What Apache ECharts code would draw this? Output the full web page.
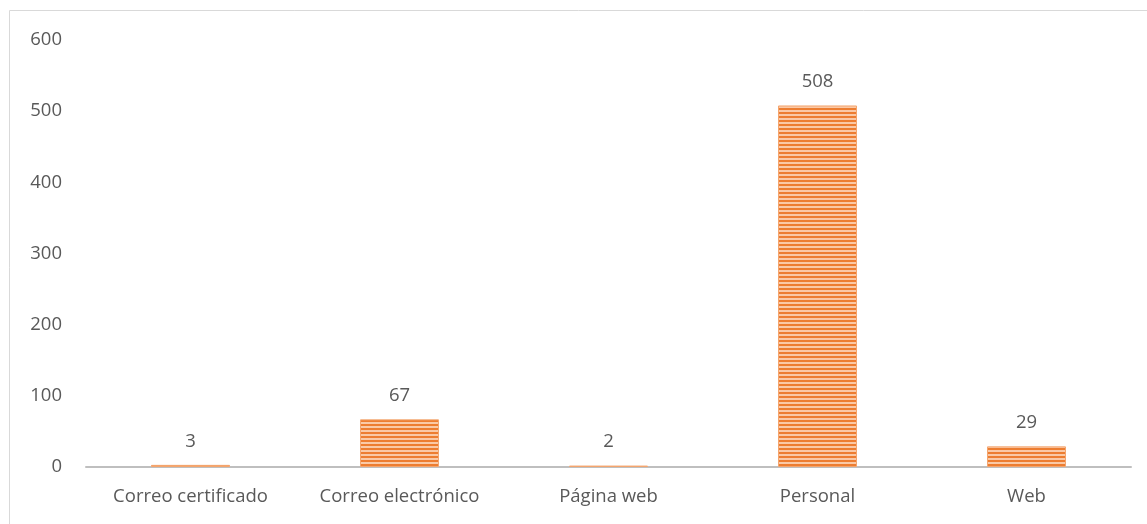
<!DOCTYPE html>
<html>
<head>
<meta charset="utf-8">
<script src="https://cdn.jsdelivr.net/npm/echarts@6/dist/echarts.min.js"></script>
<style>
  html, body { margin: 0; padding: 0; background: #fff; }
  #main { width: 1147px; height: 524px; }
</style>
</head>
<body>
<div id="main"></div>
<script>
var categories = ['Correo certificado', 'Correo electrónico', 'Página web', 'Personal', 'Web']
var values = [3, 67, 2, 508, 29]
var yTicks = [0, 100, 200, 300, 400, 500, 600]

// patron de rayas horizontales
var stripe = document.createElement('canvas')
stripe.width = 8
stripe.height = 4
var ctx = stripe.getContext('2d')
ctx.fillStyle = '#FAC9A6'
ctx.fillRect(0, 0, 8, 4)
ctx.fillStyle = '#ED7D31'
ctx.fillRect(0, 0, 8, 2)

var myChart = echarts.init(document.getElementById('main'))
var textColor = '#595959'
var font = '"Open Sans", sans-serif'

myChart.setOption({
    animation: false,
    graphic: [{
        type: 'rect',
        shape: { x: 9.5, y: 10.5, width: 1160, height: 540 },
        style: { fill: 'none', stroke: '#D9D9D9', lineWidth: 1 },
        silent: true
    }],
    grid: { left: 86, right: 16, top: 40, bottom: 57 },
    xAxis: {
        type: 'category',
        data: categories,
        axisLine: { lineStyle: { color: '#BFBFBF', width: 2 } },
        axisTick: { show: false },
        axisLabel: { color: textColor, fontSize: 18.5, fontFamily: font, margin: 20 }
    },
    yAxis: {
        type: 'value',
        min: yTicks[0],
        max: yTicks[yTicks.length - 1],
        interval: 100,
        splitLine: { show: false },
        axisLine: { show: false },
        axisTick: { show: false },
        axisLabel: { color: textColor, fontSize: 18.5, fontFamily: font, margin: 24 }
    },
    series: [{
        type: 'bar',
        data: values,
        barWidth: 79,
        itemStyle: {
            color: { image: stripe, repeat: 'repeat' },
            borderColor: '#F4A56E',
            borderWidth: 1
        },
        label: {
            show: true,
            position: 'top',
            distance: 14,
            color: textColor,
            fontSize: 18.5,
            fontFamily: font
        }
    }]
})
</script>
</body>
</html>
